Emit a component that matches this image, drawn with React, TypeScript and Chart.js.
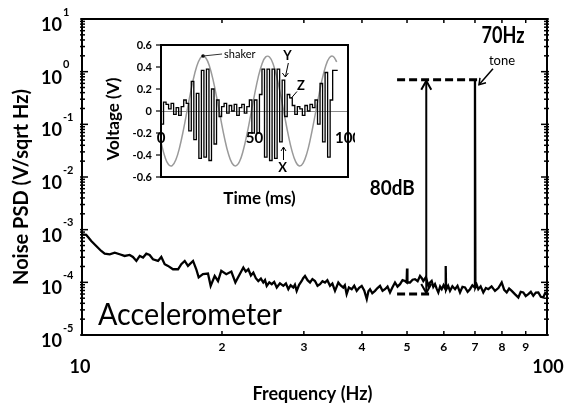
import React, { useEffect, useRef } from "react";
import { Chart, registerables } from "chart.js";

Chart.register(...registerables);

const FONT = "Lato, 'Open Sans', 'DejaVu Sans', sans-serif";

// ---------- Main PSD spectrum ----------
const psdFreqHz = [
  10.0, 10.21, 10.47, 10.73, 11.0, 11.19, 11.47, 11.76, 12.05, 12.35, 12.66, 12.87, 13.09, 13.31, 13.53,
  13.75, 13.98, 14.21, 14.57, 14.81, 15.06, 15.31, 15.69, 16.09, 16.35, 16.63, 16.9, 17.33, 17.61, 17.82,
  18.2, 18.66, 18.91, 19.29, 19.61, 19.93, 20.43, 20.95, 21.37, 21.65,
  22.23, 22.5, 22.79, 23.08, 23.36, 23.65, 23.94, 24.25, 24.54, 24.75, 24.96, 25.28, 25.59, 25.9, 26.23,
  26.65, 27.1, 27.45, 27.78, 28.1, 28.47, 28.7, 28.95, 29.3, 29.68, 29.9, 30.17, 30.55, 30.93, 31.3,
  31.7, 32.1, 32.5, 32.9, 33.31, 33.7, 34.15, 34.55, 35.0, 35.3, 35.58, 36.0, 36.46, 36.75, 37.08,
  37.5, 38.02, 38.5, 38.97, 39.45, 39.95, 40.45, 40.96, 41.3, 41.63, 42.1, 42.67, 43.2, 43.74, 44.3,
  44.83, 45.4, 45.96, 46.5, 47.11, 47.7, 48.3, 48.9, 49.51, 49.9, 50.0, 50.1, 50.75, 51.4, 52.02,
  52.7, 53.33, 53.8, 54.2, 54.9, 55.56, 56.0, 56.49, 56.95, 57.43, 57.9, 58.38, 58.9, 59.37, 59.9,
  60.45, 60.56, 60.67, 61.3, 61.86, 62.6, 63.42, 64.2, 65.0, 65.8, 66.63, 67.5, 68.3, 69.1, 69.85,
  70.0, 70.15, 70.6, 71.17, 72.0, 72.95, 73.9, 74.78, 76.0, 77.3, 78.6, 79.91, 80.9, 81.91, 82.9,
  83.98, 85.4, 86.77, 87.8, 88.92, 90.0, 91.17, 92.3, 93.44, 94.6, 95.79, 97.0, 98.17, 99.1, 100,
];
const psdValue = [
  8.15e-4, 8.0e-4, 6.1e-4, 4.9e-4, 3.94e-4, 3.5e-4, 3.41e-4, 3.67e-4, 3.41e-4, 3.17e-4, 3.31e-4, 3.03e-4, 2.55e-4, 3.17e-4, 2.95e-4,
  3.5e-4, 3.31e-4, 2.74e-4, 2.55e-4, 3.03e-4, 2.21e-4, 2.05e-4, 1.77e-4, 1.77e-4, 2.21e-4, 2.55e-4, 2.05e-4, 2.55e-4, 1.77e-4, 1.24e-4,
  1.43e-4, 1.47e-4, 8.57e-5, 1.32e-4, 1.06e-4, 1.65e-4, 1.43e-4, 1.6e-4, 9.93e-5, 1.24e-4,
  1.91e-4, 1.6e-4, 1.77e-4, 1.35e-4, 1.53e-4, 1.2e-4, 1.06e-4, 1.18e-4, 9.93e-5, 1.1e-4, 8.57e-5, 1.0e-4, 9.23e-5, 1.02e-4, 7.98e-5,
  9.6e-5, 8.57e-5, 9.5e-5, 7.41e-5, 8.8e-5, 7.98e-5, 9.0e-5, 6.89e-5, 9.0e-5, 1.06e-4, 1.2e-4, 1.32e-4, 1.1e-4, 9.93e-5, 1.15e-4,
  1.06e-4, 8.6e-5, 9.23e-5, 1.05e-4, 9.93e-5, 1.1e-4, 8.57e-5, 9.5e-5, 6.89e-5, 8.3e-5, 9.93e-5, 8.7e-5, 7.98e-5, 8.8e-5, 5.97e-5,
  8.0e-5, 7.41e-5, 8.6e-5, 6.89e-5, 7.9e-5, 8.57e-5, 7.0e-5, 4.8e-5, 6.8e-5, 7.41e-5, 6.2e-5, 6.89e-5, 7.8e-5, 8.57e-5, 6.9e-5,
  7.41e-5, 8.3e-5, 6.43e-5, 8.0e-5, 9.93e-5, 8.3e-5, 9.23e-5, 1.1e-4, 1.06e-4, 1.0e-4, 1.83e-4, 1.0e-4, 9.93e-5, 1.12e-4, 1.15e-4,
  1.05e-4, 1.32e-4, 1.2e-4, 1.06e-4, 1.25e-4, 8.57e-5, 9.8e-5, 1.06e-4, 8.2e-5, 9.23e-5, 7.6e-5, 6.43e-5, 8.3e-5, 7.41e-5, 8.8e-5,
  7.4e-5, 2.05e-4, 7.2e-5, 8.6e-5, 6.89e-5, 8.4e-5, 7.41e-5, 8.6e-5, 6.43e-5, 8.2e-5, 7.98e-5, 6.6e-5, 7.41e-5, 8.8e-5, 8.0e-5,
  0.7, 8.0e-5, 9.0e-5, 7.41e-5, 8.4e-5, 6.43e-5, 7.8e-5, 7.41e-5, 8.4e-5, 6.89e-5, 7.8e-5, 9.93e-5, 7.2e-5, 6.43e-5, 7.6e-5,
  6.89e-5, 5.9e-5, 5.17e-5, 6.6e-5, 6.43e-5, 5.5e-5, 5.97e-5, 6.6e-5, 5.54e-5, 6.4e-5, 6.43e-5, 5.3e-5, 5.17e-5, 6.3e-5, 5.97e-5,
];

const yDecadeExponents = [-5, -4, -3, -2, -1, 0, 1];
const xMinorTickValues = [20, 30, 40, 50, 60, 70, 80, 90];
const xMinorTickLabels = ["2", "3", "4", "5", "6", "7", "8", "9"];
const xEndTickValues = [10, 100];
const xEndTickLabels = ["10", "100"];

// annotation values (data units)
const toneFreqHz = 70;
const arrowFreqHz = 55;
const toneLevel = 0.7;
const floorLevel = 6e-5;
const dashStartHz = 47.6;
const topDashEndHz = 71.1;
const bottomDashEndHz = 56.2;

// ---------- Inset: time-domain signals ----------
const shakerTimeMs = [
  0, 2, 4, 6, 8, 10, 12, 14, 16, 18, 20, 22, 24, 26, 28, 30, 32, 34, 36, 38, 40, 42, 44, 46,
  48, 50, 52, 54, 56, 58, 60, 62, 64, 66, 68, 70, 72, 74, 76, 78, 80, 82, 84, 86, 88, 90, 92, 94,
];
const shakerVolt = [
  -0.284, -0.412, -0.486, -0.496, -0.441, -0.327, -0.171, 0.008, 0.186, 0.339, 0.448, 0.498, 0.482, 0.403, 0.271, 0.103,
  -0.078, -0.249, -0.387, -0.475, -0.499, -0.459, -0.357, -0.209, -0.033, 0.147, 0.308, 0.428, 0.492, 0.491, 0.426, 0.304,
  0.143, -0.037, -0.213, -0.36, -0.46, -0.5, -0.473, -0.385, -0.245, -0.074, 0.107, 0.275, 0.405, 0.483, 0.497, 0.446,
];

const xyzSamplePeriodMs = 1.35;
const xyzVolt = [
  0.05, -0.12, 0.08, 0.06, 0.02, 0.07, -0.03, 0.03, -0.04, 0.04,
  0.1, 0.07, -0.18, 0.27, -0.26, 0.16, -0.43, 0.37, -0.42, 0.38,
  -0.45, 0.2, -0.3, 0.1, -0.05, 0.04, 0.07, -0.02, 0.05, 0.0,
  0.06, -0.04, 0.03, 0.06, -0.02, 0.04, 0.1, -0.2, 0.1, -0.2,
  0.15, 0.38, -0.42, 0.38, -0.45, 0.38, -0.43, 0.38, -0.28, 0.28,
  -0.05, 0.15, 0.12, 0.05, -0.03, 0.04, 0.02, -0.04, 0.05, 0.0,
  0.06, 0.03, 0.1, -0.12, 0.25, -0.28, 0.35, -0.42, 0.1, 0.37,
];

const insetYTicks = [0.6, 0.4, 0.2, 0, -0.2, -0.4, -0.6];
const insetXLabels = [0, 50, 100];

const shakerPeakMs = 22.5;
const shakerPeakV = 0.5;
const yMarkerMs = 66.5;
const yMarkerV = 0.3;
const zMarkerMs = 69.5;
const zMarkerV = 0.15;
const xMarkerMs = 65.5;
const xMarkerV = -0.3;

function drawText(
  ctx: CanvasRenderingContext2D,
  s: string,
  x: number,
  y: number,
  font: string,
  align: CanvasTextAlign,
  baseline: CanvasTextBaseline,
  maxWidth?: number,
  rotate = 0
) {
  ctx.save();
  ctx.font = font;
  ctx.textAlign = align;
  ctx.textBaseline = baseline;
  ctx.fillStyle = "#000";
  ctx.translate(x, y);
  if (rotate) ctx.rotate(rotate);
  if (maxWidth) ctx.fillText(s, 0, 0, maxWidth);
  else ctx.fillText(s, 0, 0);
  ctx.restore();
}

function line(ctx: CanvasRenderingContext2D, x1: number, y1: number, x2: number, y2: number) {
  ctx.beginPath();
  ctx.moveTo(x1, y1);
  ctx.lineTo(x2, y2);
  ctx.stroke();
}

const mainDecor = {
  id: "mainDecor",
  afterDraw(chart: any) {
    const ctx: CanvasRenderingContext2D = chart.ctx;
    const xs = chart.scales.x;
    const ys = chart.scales.y;
    const a = chart.chartArea;
    ctx.save();
    ctx.strokeStyle = "#000";
    ctx.lineWidth = 2;
    ctx.strokeRect(a.left, a.top, a.right - a.left, a.bottom - a.top);

    // y ticks (inward, both sides)
    ctx.lineWidth = 1.5;
    yDecadeExponents.forEach((e) => {
      const y = ys.getPixelForValue(Math.pow(10, e));
      line(ctx, a.left - 2, y, a.left + 6, y);
      line(ctx, a.right + 2, y, a.right - 6, y);
      if (e < 1) {
        for (let m = 2; m <= 9; m++) {
          const ym = ys.getPixelForValue(m * Math.pow(10, e));
          line(ctx, a.left - 2, ym, a.left + 3, ym);
          line(ctx, a.right + 2, ym, a.right - 3, ym);
        }
      }
      const ly = y + 6;
      drawText(ctx, "10", a.left - 20, ly, `bold 19px ${FONT}`, "right", "middle", 21);
      drawText(ctx, String(e), a.left - 19, ly - 13, `bold 11px ${FONT}`, "left", "middle");
    });

    // x ticks (inward, top and bottom)
    xMinorTickValues.forEach((v, i) => {
      const x = xs.getPixelForValue(v);
      line(ctx, x, a.bottom, x, a.bottom - 4);
      line(ctx, x, a.top, x, a.top + 4);
      drawText(ctx, xMinorTickLabels[i], x, a.bottom + 12, `bold 12px ${FONT}`, "center", "middle");
    });
    xEndTickValues.forEach((v, i) => {
      const x = xs.getPixelForValue(v);
      drawText(ctx, xEndTickLabels[i], x + (i === 0 ? -2 : 1), a.bottom + 32, `bold 18px ${FONT}`, "center", "middle");
    });

    // axis titles
    drawText(ctx, "Frequency (Hz)", (a.left + a.right) / 2 - 2, a.bottom + 65, `bold 18px ${FONT}`, "center", "alphabetic", 131);
    drawText(ctx, "Noise PSD (V/sqrt Hz)", 22, 187, `bold 20px ${FONT}`, "center", "middle", 227, -Math.PI / 2);

    // dashed reference lines
    const yTop = ys.getPixelForValue(toneLevel);
    const yBot = ys.getPixelForValue(floorLevel);
    const xd0 = xs.getPixelForValue(dashStartHz);
    ctx.lineWidth = 3;
    ctx.setLineDash([8, 4]);
    line(ctx, xd0, yTop, xs.getPixelForValue(topDashEndHz), yTop);
    line(ctx, xd0, yBot, xs.getPixelForValue(bottomDashEndHz), yBot);
    ctx.setLineDash([]);

    // 80 dB double arrow
    const xa = xs.getPixelForValue(arrowFreqHz);
    ctx.lineWidth = 2;
    line(ctx, xa, yTop + 1, xa, yBot - 1);
    ctx.beginPath();
    ctx.moveTo(xa - 5, yTop + 10);
    ctx.lineTo(xa, yTop + 1);
    ctx.lineTo(xa + 5, yTop + 10);
    ctx.stroke();
    ctx.beginPath();
    ctx.moveTo(xa - 5, yBot - 10);
    ctx.lineTo(xa, yBot - 1);
    ctx.lineTo(xa + 5, yBot - 10);
    ctx.stroke();

    // tone pointer
    const xt = xs.getPixelForValue(toneFreqHz);
    const tipX = xt + 4;
    const tipY = yTop + 5;
    ctx.lineWidth = 1.5;
    line(ctx, tipX, tipY, tipX + 14, tipY - 16);
    ctx.beginPath();
    ctx.moveTo(tipX + 1, tipY - 7);
    ctx.lineTo(tipX, tipY);
    ctx.lineTo(tipX + 7, tipY - 2);
    ctx.stroke();

    drawText(ctx, "70Hz", xt + 28, yTop - 37, `bold 22px ${FONT}`, "center", "alphabetic", 43);
    drawText(ctx, "tone", xt + 27, yTop - 15, `13px ${FONT}`, "center", "alphabetic", 29);
    drawText(ctx, "80dB", xa - 34, yTop + 115, `bold 21px ${FONT}`, "center", "alphabetic", 45);
    drawText(ctx, "Accelerometer", a.left + 16, a.bottom - 10, `30px ${FONT}`, "left", "alphabetic", 184);
    ctx.restore();
  },
};

const insetDecor = {
  id: "insetDecor",
  beforeDatasetsDraw(chart: any) {
    const ctx: CanvasRenderingContext2D = chart.ctx;
    const ys = chart.scales.y;
    const a = chart.chartArea;
    ctx.save();
    ctx.strokeStyle = "#8a8a8a";
    ctx.lineWidth = 1;
    const y0 = Math.round(ys.getPixelForValue(0)) + 0.5;
    line(ctx, a.left, y0, a.right, y0);
    ctx.restore();
  },
  afterDraw(chart: any) {
    const ctx: CanvasRenderingContext2D = chart.ctx;
    const xs = chart.scales.x;
    const ys = chart.scales.y;
    const a = chart.chartArea;
    ctx.save();
    ctx.strokeStyle = "#000";
    ctx.lineWidth = 2;
    ctx.strokeRect(a.left, a.top, a.right - a.left, a.bottom - a.top);
    ctx.lineWidth = 1.2;
    insetYTicks.forEach((v) => {
      const y = ys.getPixelForValue(v);
      line(ctx, a.left - 5, y, a.left, y);
      drawText(ctx, String(v), a.left - 9, y, `bold 11px ${FONT}`, "right", "middle");
    });
    insetXLabels.forEach((v) => {
      drawText(ctx, String(v), xs.getPixelForValue(v), ys.getPixelForValue(-0.25), `bold 15px ${FONT}`, "center", "middle");
    });
    drawText(ctx, "Voltage (V)", 14, (a.top + a.bottom) / 2 + 8, `bold 17px ${FONT}`, "center", "middle", 83, -Math.PI / 2);
    drawText(ctx, "Time (ms)", (a.left + a.right) / 2 + 5, a.bottom + 22, `bold 17px ${FONT}`, "center", "middle", 82);

    // shaker label
    const px = xs.getPixelForValue(shakerPeakMs);
    const py = ys.getPixelForValue(shakerPeakV);
    ctx.fillStyle = "#000";
    ctx.beginPath();
    ctx.arc(px, py, 1.8, 0, Math.PI * 2);
    ctx.fill();
    ctx.lineWidth = 1;
    ctx.strokeStyle = "#333";
    line(ctx, px, py, px + 19, py - 2);
    drawText(ctx, "shaker", px + 21, py - 2, `11px ${FONT}`, "left", "middle", 33);

    // Y, Z, X markers
    ctx.strokeStyle = "#000";
    const yx = xs.getPixelForValue(yMarkerMs);
    const yy = ys.getPixelForValue(yMarkerV);
    drawText(ctx, "Y", yx + 2, yy - 22, `bold 13px ${FONT}`, "center", "middle");
    line(ctx, yx + 3, yy - 15, yx, yy - 1);
    ctx.beginPath();
    ctx.moveTo(yx - 3, yy - 5);
    ctx.lineTo(yx, yy - 1);
    ctx.lineTo(yx + 3, yy - 5);
    ctx.stroke();

    const zx = xs.getPixelForValue(zMarkerMs);
    const zy = ys.getPixelForValue(zMarkerV);
    drawText(ctx, "Z", zx + 10, zy - 9, `bold 13px ${FONT}`, "center", "middle");
    line(ctx, zx + 6, zy - 3, zx, zy + 4);

    const xx = xs.getPixelForValue(xMarkerMs);
    const xy = ys.getPixelForValue(xMarkerV);
    drawText(ctx, "X", xx - 1, xy + 24, `bold 13px ${FONT}`, "center", "middle");
    line(ctx, xx, xy + 16, xx, xy + 3);
    ctx.beginPath();
    ctx.moveTo(xx - 2.5, xy + 7);
    ctx.lineTo(xx, xy + 3);
    ctx.lineTo(xx + 2.5, xy + 7);
    ctx.stroke();
    ctx.restore();
  },
};

export default function App() {
  const mainRef = useRef<HTMLCanvasElement>(null);
  const insetRef = useRef<HTMLCanvasElement>(null);

  useEffect(() => {
    const psdPoints = psdFreqHz.map((f, i) => ({ x: f, y: psdValue[i] }));
    const main = new Chart(mainRef.current as HTMLCanvasElement, {
      type: "line",
      data: {
        datasets: [
          {
            data: psdPoints,
            borderColor: "#000",
            borderWidth: 2.3,
            pointRadius: 0,
            tension: 0,
          },
        ],
      },
      options: {
        animation: false,
        responsive: false,
        devicePixelRatio: 1,
        layout: { padding: { left: 82, top: 19, right: 22, bottom: 69 } },
        plugins: { legend: { display: false }, tooltip: { enabled: false } },
        scales: {
          x: { type: "logarithmic", min: 10, max: 100, display: false },
          y: { type: "logarithmic", min: 1e-5, max: 10, display: false },
        },
      },
      plugins: [mainDecor],
    });

    const shakerPoints = shakerTimeMs.map((t, i) => ({ x: t, y: shakerVolt[i] }));
    const xyzPoints = xyzVolt.map((v, i) => ({ x: i * xyzSamplePeriodMs, y: v }));
    xyzPoints.push({ x: xyzVolt.length * xyzSamplePeriodMs, y: xyzVolt[xyzVolt.length - 1] });
    const inset = new Chart(insetRef.current as HTMLCanvasElement, {
      type: "line",
      data: {
        datasets: [
          {
            data: xyzPoints,
            borderColor: "#000",
            borderWidth: 1.3,
            pointRadius: 0,
            stepped: "after",
            order: 0,
          },
          {
            data: shakerPoints,
            borderColor: "#9a9a9a",
            borderWidth: 1.5,
            pointRadius: 0,
            tension: 0.4,
            order: 1,
          },
        ],
      },
      options: {
        animation: false,
        responsive: false,
        devicePixelRatio: 1,
        layout: { padding: { left: 61, top: 15, right: 7, bottom: 33 } },
        plugins: { legend: { display: false }, tooltip: { enabled: false } },
        scales: {
          x: { type: "linear", min: 0, max: 100, display: false },
          y: { type: "linear", min: -0.6, max: 0.6, display: false },
        },
      },
      plugins: [insetDecor],
    });

    return () => {
      main.destroy();
      inset.destroy();
    };
  }, []);

  return (
    <div style={{ position: "absolute", left: 0, top: 0, width: 569, height: 404, background: "#fff" }}>
      <canvas ref={mainRef} width={569} height={404} style={{ position: "absolute", left: 0, top: 0 }} />
      <canvas ref={insetRef} width={255} height={180} style={{ position: "absolute", left: 100, top: 30 }} />
    </div>
  );
}
